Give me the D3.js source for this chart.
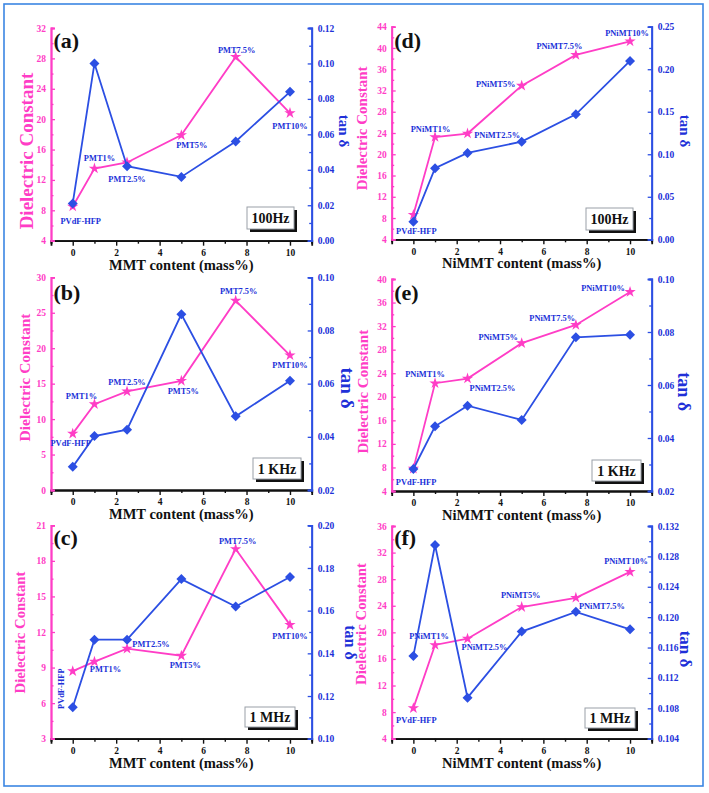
<!DOCTYPE html>
<html>
<head>
<meta charset="utf-8">
<script src="https://cdn.jsdelivr.net/npm/d3@7"></script>
<style>
html,body{margin:0;padding:0;background:#fff;}
svg{display:block;}
text{font-family:"Liberation Serif","Times New Roman",serif;font-weight:bold;}
</style>
</head>
<body>
<svg id="chart" width="709" height="793"></svg>
<script>
// ---------------- DATA ----------------
const xVals = [0, 1, 2.5, 5, 7.5, 10];
const xTicks = [0, 2, 4, 6, 8, 10];
const xTitles = ["MMT content (mass%)", "NiMMT content (mass%)"];
const labelsMMT = ["PVdF-HFP", "PMT1%", "PMT2.5%", "PMT5%", "PMT7.5%", "PMT10%"];
const labelsNi = ["PVdF-HFP", "PNiMT1%", "PNiMT2.5%", "PNiMT5%", "PNiMT7.5%", "PNiMT10%"];
const freqLabels = ["100Hz", "1 KHz", "1 MHz"];
const panelLetters = ["(a)", "(b)", "(c)", "(d)", "(e)", "(f)"];

const dcA = [8.5, 13.5, 14.3, 17.9, 28.2, 20.8];
const tanA = [0.021, 0.100, 0.042, 0.036, 0.056, 0.084];
const dcB = [7.95, 12.1, 13.9, 15.4, 26.7, 19.0];
const tanB = [0.0287, 0.0403, 0.0427, 0.0861, 0.0477, 0.0611];
const dcC = [8.7, 9.5, 10.6, 10.0, 19.0, 12.6];
const tanC = [0.1147, 0.1464, 0.1464, 0.1748, 0.1619, 0.1758];
const dcD = [8.6, 23.25, 23.9, 32.9, 38.7, 41.25];
const tanD = [0.0207, 0.0836, 0.1016, 0.1148, 0.147, 0.2098];
const dcE = [7.8, 22.3, 23.1, 29.1, 32.2, 37.8];
const tanE = [0.0283, 0.0444, 0.0522, 0.0468, 0.078, 0.079];
const dcF = [8.6, 18.1, 19.05, 23.8, 25.2, 29.1];
const tanF = [0.1149, 0.1295, 0.1094, 0.1181, 0.1207, 0.1184];

const dcTicksA = [4, 8, 12, 16, 20, 24, 28, 32];
const tanTicksA = [0, 0.02, 0.04, 0.06, 0.08, 0.10, 0.12];
const dcTicksB = [0, 5, 10, 15, 20, 25, 30];
const tanTicksB = [0.02, 0.04, 0.06, 0.08, 0.10];
const dcTicksC = [3, 6, 9, 12, 15, 18, 21];
const tanTicksC = [0.10, 0.12, 0.14, 0.16, 0.18, 0.20];
const dcTicksD = [4, 8, 12, 16, 20, 24, 28, 32, 36, 40, 44];
const tanTicksD = [0, 0.05, 0.10, 0.15, 0.20, 0.25];
const dcTicksE = [4, 8, 12, 16, 20, 24, 28, 32, 36, 40];
const tanTicksE = [0.02, 0.04, 0.06, 0.08, 0.10];
const dcTicksF = [4, 8, 12, 16, 20, 24, 28, 32, 36];
const tanTicksF = [0.104, 0.108, 0.112, 0.116, 0.120, 0.124, 0.128, 0.132];

// ---------------- STYLE / LAYOUT ----------------
const PINK = "#ff3dc6", BLUE = "#2c4fe3", LBLUE = "#2030d8";
const cols = [{l: 51, r: 311.7}, {l: 391.7, r: 651.7}];
const panels = [
  {col:0, top:28, bot:240.7, dc:dcA, tan:tanA, lt:dcTicksA, rt:tanTicksA, rf:2, f:0, lab:labelsMMT, L:panelLetters[0],
   off:[[8,17],[5,-7.5],[0,20],[10.5,13],[1,-4],[0,16]], ytx:33, yty:151, yts:19, ttx:339, tty:131, tts:15, lb:48,
   box:[247,207,47,22]},
  {col:0, top:277.3, bot:490, dc:dcB, tan:tanB, lt:dcTicksB, rt:tanTicksB, rf:2, f:1, lab:labelsMMT, L:panelLetters[1],
   off:[[-2,12],[-13,-5.5],[0,-6.7],[2,13],[3,-7],[0,13]], ytx:30, yty:377.5, yts:15.5, ttx:341, tty:388, tts:19, lb:299.5,
   box:[253,458,48,21]},
  {col:0, top:525.3, bot:738.7, dc:dcC, tan:tanC, lt:dcTicksC, rt:tanTicksC, rf:2, f:2, lab:labelsMMT, L:panelLetters[2],
   off:[[-8.8,17.6,1],[11,10.6],[24,-1.6],[4,12.6],[2,-5],[0,14]], ytx:25, yty:632.5, yts:14.8, ttx:345, tty:642.5, tts:16, lb:544.5,
   box:[245,707,50,20]},
  {col:1, top:26.7, bot:239.3, dc:dcD, tan:tanD, lt:dcTicksD, rt:tanTicksD, rf:2, f:0, lab:labelsNi, L:panelLetters[3],
   off:[[3,19],[-4.5,-5],[29.6,4.3],[-26,1],[-16.5,-6],[-3,-5]], ytx:366.7, yty:128.3, yts:15, ttx:680, tty:131, tts:15, lb:47.5,
   box:[586,208,47,22]},
  {col:1, top:279, bot:491, dc:dcE, tan:tanE, lt:dcTicksE, rt:tanTicksE, rf:2, f:1, lab:labelsNi, L:panelLetters[4],
   off:[[2.7,16],[-10,-6],[25,12],[-23.5,-3],[-23.6,-4],[-27,-1]], ytx:368, yty:391.7, yts:15, ttx:678, tty:391.7, tts:18, lb:299.5,
   box:[592,460,49,21]},
  {col:1, top:526, bot:738.7, dc:dcF, tan:tanF, lt:dcTicksF, rt:tanTicksF, rf:3, f:2, lab:labelsNi, L:panelLetters[5],
   off:[[3,14.5],[-6,-6],[17,11],[-1,-9],[26,11],[-4,-8]], ytx:366, yty:624, yts:14.8, ttx:680, tty:649, tts:17, lb:544.5,
   box:[585,708,50,20]}
];

const svg = d3.select("#chart");
svg.append("rect").attr("width", 709).attr("height", 793).attr("fill", "#fff");
svg.append("rect").attr("x", 4).attr("y", 4).attr("width", 699).attr("height", 782)
  .attr("fill", "none").attr("stroke", "#3b86e3").attr("stroke-width", 1.6);

function mids(arr) { const m = []; for (let i = 0; i < arr.length - 1; i++) m.push((arr[i] + arr[i+1]) / 2); return m; }

panels.forEach(p => {
  const c = cols[p.col];
  const g = svg.append("g");
  const x = d3.scaleLinear().domain([-1, 11]).range([c.l, c.r]);
  const yL = d3.scaleLinear().domain([p.lt[0], p.lt[p.lt.length-1]]).range([p.bot, p.top]);
  const yR = d3.scaleLinear().domain([p.rt[0], p.rt[p.rt.length-1]]).range([p.bot, p.top]);

  // x axis
  const xa = g.append("g").attr("transform", `translate(0,${p.bot})`)
    .call(d3.axisBottom(x).tickValues(xTicks).tickSize(5).tickFormat(d3.format("d")));
  const xm = g.append("g").attr("transform", `translate(0,${p.bot})`)
    .call(d3.axisBottom(x).tickValues([-1,1,3,5,7,9,11]).tickSize(3).tickFormat(""));
  [xa, xm].forEach(a => { a.select(".domain").attr("stroke", "#111").attr("stroke-width", 1.8);
    a.selectAll(".tick line").attr("stroke", "#111").attr("stroke-width", 1.4); });
  xa.selectAll(".tick text").attr("fill", "#111").attr("font-size", 9.5).attr("y", 8.5);

  // left axis
  const la = g.append("g").attr("transform", `translate(${c.l},0)`)
    .call(d3.axisLeft(yL).tickValues(p.lt).tickSize(-4).tickPadding(5).tickFormat(d3.format("d")));
  const lm = g.append("g").attr("transform", `translate(${c.l},0)`)
    .call(d3.axisLeft(yL).tickValues(mids(p.lt)).tickSize(-2.5).tickFormat(""));
  [la, lm].forEach(a => { a.select(".domain").attr("stroke", PINK).attr("stroke-width", 1.8);
    a.selectAll(".tick line").attr("stroke", PINK).attr("stroke-width", 1.3); });
  la.selectAll(".tick text").attr("fill", PINK).attr("font-size", 9.5).attr("x", -5);

  // right axis
  const ra = g.append("g").attr("transform", `translate(${c.r},0)`)
    .call(d3.axisRight(yR).tickValues(p.rt).tickSize(-4).tickFormat(d3.format(`.${p.rf}f`)));
  const rm = g.append("g").attr("transform", `translate(${c.r},0)`)
    .call(d3.axisRight(yR).tickValues(mids(p.rt)).tickSize(-2.5).tickFormat(""));
  [ra, rm].forEach(a => { a.select(".domain").attr("stroke", BLUE).attr("stroke-width", 1.8);
    a.selectAll(".tick line").attr("stroke", BLUE).attr("stroke-width", 1.3); });
  ra.selectAll(".tick text").attr("fill", LBLUE).attr("font-size", 9.5).attr("x", 6);

  // titles
  g.append("text").attr("x", (c.l + c.r) / 2).attr("y", p.bot + 29).attr("text-anchor", "middle")
    .attr("font-size", 14.5).attr("fill", "#111").text(xTitles[p.col]);
  g.append("text").attr("transform", `translate(${p.ytx},${p.yty}) rotate(-90)`).attr("text-anchor", "middle")
    .attr("font-size", p.yts).attr("fill", PINK).text("Dielectric Constant");
  g.append("text").attr("transform", `translate(${p.ttx},${p.tty}) rotate(90)`).attr("text-anchor", "middle")
    .attr("font-size", p.tts).attr("fill", LBLUE).text("tan δ");

  // panel letter
  g.append("text").attr("x", c.l + 2.5).attr("y", p.lb).attr("font-size", 22).attr("fill", "#111").text(p.L);

  // frequency box
  const [bx, by, bw, bh] = p.box;
  g.append("rect").attr("x", bx + 3).attr("y", by + 3).attr("width", bw).attr("height", bh).attr("fill", "#111");
  g.append("rect").attr("x", bx).attr("y", by).attr("width", bw).attr("height", bh)
    .attr("fill", "#fff").attr("stroke", "#9aa0a8").attr("stroke-width", 1);
  g.append("text").attr("x", bx + bw / 2).attr("y", by + bh / 2 + 5).attr("text-anchor", "middle")
    .attr("font-size", 14).attr("fill", "#111").text(freqLabels[p.f]);

  // dielectric series
  const pts = xVals.map((v, i) => ({x: v, dc: p.dc[i], t: p.tan[i], i}));
  g.append("path").datum(pts).attr("fill", "none").attr("stroke", PINK).attr("stroke-width", 1.8)
    .attr("d", d3.line().x(d => x(d.x)).y(d => yL(d.dc)));
  g.selectAll(null).data(pts).enter().append("path")
    .attr("transform", d => `translate(${x(d.x)},${yL(d.dc)})`)
    .attr("d", d3.symbol().type(d3.symbolStar).size(40)).attr("fill", PINK);

  // tan series
  g.append("path").datum(pts).attr("fill", "none").attr("stroke", BLUE).attr("stroke-width", 1.8)
    .attr("d", d3.line().x(d => x(d.x)).y(d => yR(d.t)));
  g.selectAll(null).data(pts).enter().append("path")
    .attr("transform", d => `translate(${x(d.x)},${yR(d.t)})`)
    .attr("d", "M0,-5L5,0L0,5L-5,0Z").attr("fill", BLUE);

  // point labels
  pts.forEach(d => {
    const o = p.off[d.i];
    const px = x(d.x) + o[0], py = yL(d.dc) + o[1];
    const t = g.append("text").attr("text-anchor", "middle").attr("font-size", 8.4).attr("fill", LBLUE).text(p.lab[d.i]);
    if (o[2]) t.attr("transform", `translate(${px},${py}) rotate(-90)`);
    else t.attr("x", px).attr("y", py);
  });
});
</script>
</body>
</html>
